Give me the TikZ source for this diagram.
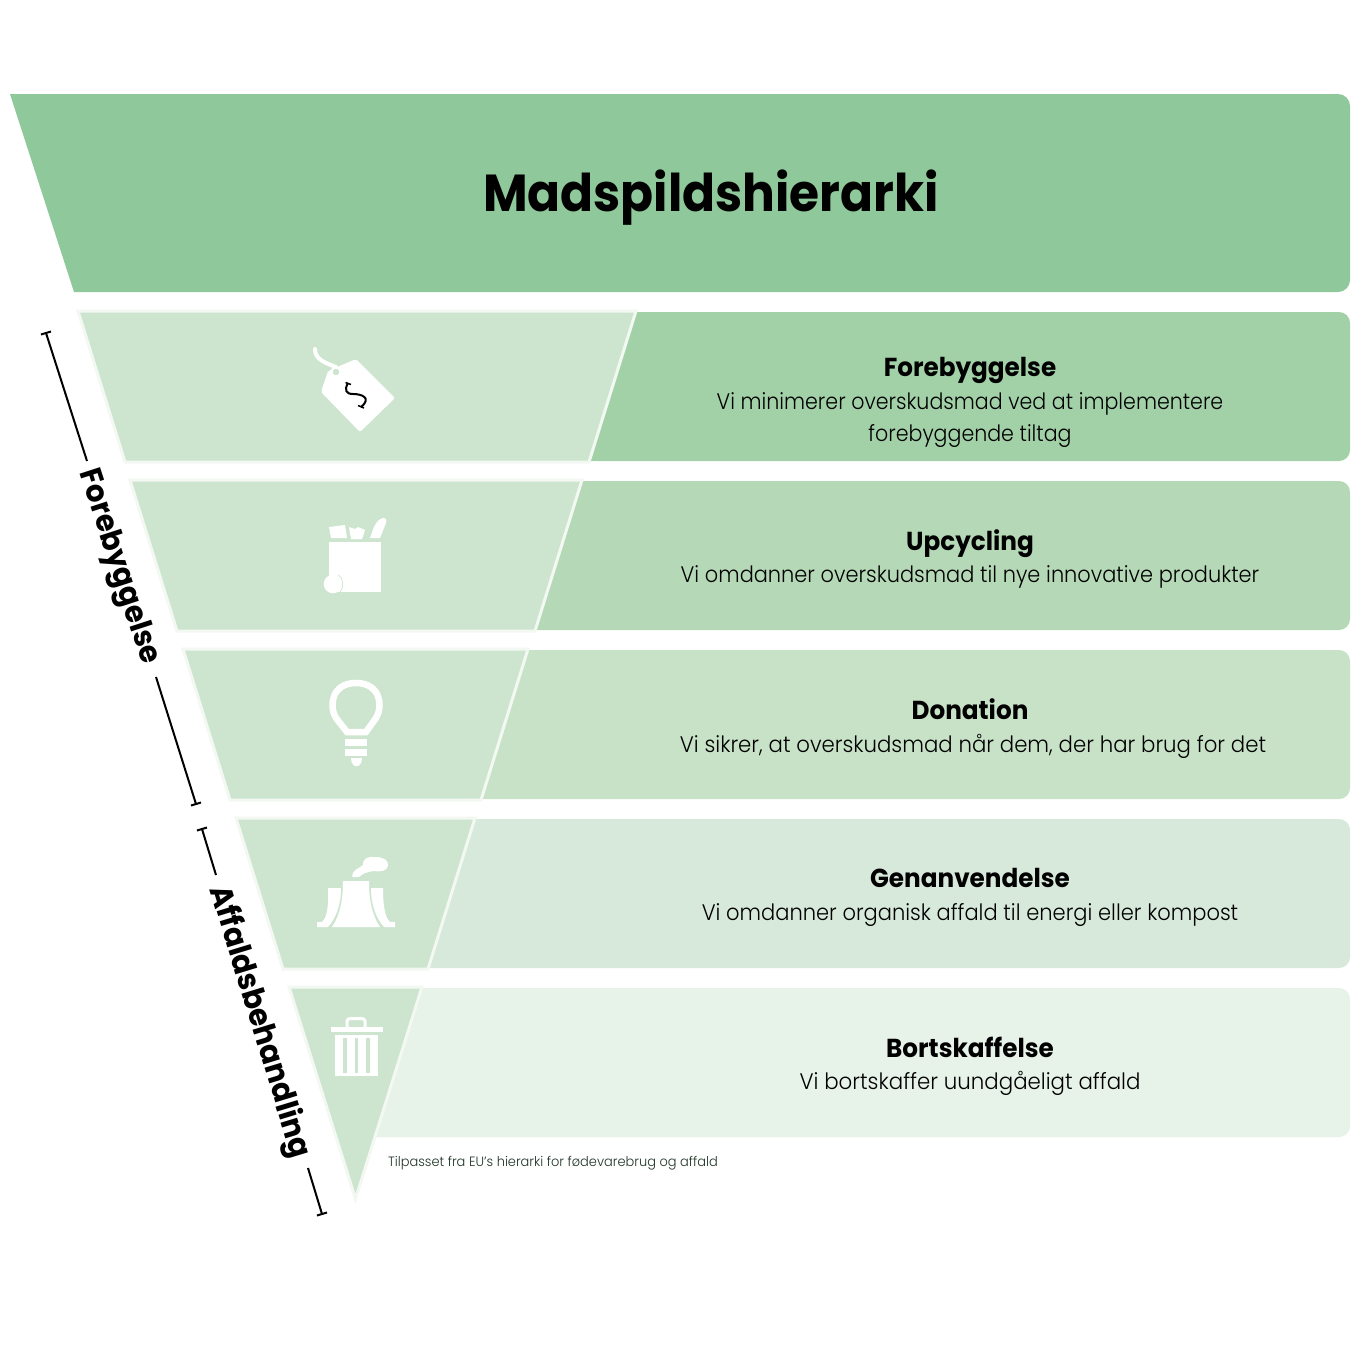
\documentclass[tikz,border=0pt]{standalone}
\usepackage{fontspec}
\setmainfont{Poppins}
\newfontfamily\bodya[FakeStretch=0.915]{Poppins Light}
\newfontfamily\bodyb[FakeStretch=0.929]{Poppins Light}
\newfontfamily\bodyc[FakeStretch=0.945]{Poppins Light}
\newfontfamily\bodyd[FakeStretch=0.934]{Poppins Light}
\newfontfamily\bodye[FakeStretch=0.948]{Poppins Light}
\newfontfamily\noted[FakeStretch=0.96]{Poppins Light}
\newfontfamily\titlef[FakeStretch=0.935]{Poppins}
\newfontfamily\headf[FakeStretch=0.95]{Poppins}
\definecolor{cTitle}{HTML}{8FC89A}
\definecolor{cA}{HTML}{A2D1A8}
\definecolor{cB}{HTML}{B5D9B7}
\definecolor{cC}{HTML}{C8E2C8}
\definecolor{cD}{HTML}{D7E9DA}
\definecolor{cE}{HTML}{E7F2E8}
\definecolor{cTri}{HTML}{CDE5CF}
\definecolor{cEdge}{HTML}{F3F8F3}
\definecolor{cNote}{HTML}{1F3326}
\tikzset{
  band/.style={rounded corners=11pt,draw=none},
  tri/.style={fill=cTri,draw=cEdge,line width=3pt,line join=miter},
  head/.style={font=\headf\bfseries\fontsize{26}{30}\selectfont,text=black,inner sep=0pt},
  body/.style={font=\fontsize{22.5}{32}\selectfont,text=black,inner sep=0pt,align=center},
  side/.style={text=black,inner sep=0pt},
  brack/.style={draw=black,line width=2pt},
  icon/.style={fill=white,draw=none},
}
\begin{document}
\begin{tikzpicture}[x=1pt,y=-1pt]
\useasboundingbox (0,0) rectangle (1360,1360);
\fill[white] (0,0) rectangle (1360,1360);
% title
\fill[cTitle] (10,94) [rounded corners=12pt] -- (1350,94) -- (1350,292) [sharp corners] -- (74,292) -- cycle;
\node[font=\titlef\bfseries\fontsize{52}{58}\selectfont,inner sep=0pt] (title) at (711,198) {Madspildshierarki};
% bands
\fill[cA,band] (560,312) rectangle (1350,461);
\fill[cB,band] (500,481) rectangle (1350,630);
\fill[cC,band] (450,650) rectangle (1350,799);
\fill[cD,band] (400,819) rectangle (1350,968);
\fill[cE,band] (340,988) rectangle (1350,1137);
% funnel
\path[tri] (78,311) -- (636,311) -- (589,462) -- (125,462) -- cycle;
\path[tri] (130,480) -- (582,480) -- (535,631) -- (177,631) -- cycle;
\path[tri] (183,649) -- (528,649) -- (481,800) -- (230,800) -- cycle;
\path[tri] (236,818) -- (475,818) -- (428,969) -- (283,969) -- cycle;
\path[tri] (289,987) -- (422,987) -- (355.5,1199) -- cycle;
% texts
\node[head] (h1) at (970,370) {Forebyggelse};
\node[body,font=\bodya\fontsize{22.5}{32}\selectfont] (b1) at (970,420) {Vi minimerer overskudsmad ved at implementere\\forebyggende tiltag};
\node[head] (h2) at (970,544) {Upcycling};
\node[body,font=\bodyb\fontsize{22.5}{32}\selectfont] (b2) at (970,577) {Vi omdanner overskudsmad til nye innovative produkter};
\node[head] (h3) at (970,709) {Donation};
\node[body,font=\bodyc\fontsize{22.5}{32}\selectfont] (b3) at (973,746) {Vi sikrer, at overskudsmad når dem, der har brug for det};
\node[head] (h4) at (970,878) {Genanvendelse};
\node[body,font=\bodyd\fontsize{22.5}{32}\selectfont] (b4) at (970,915) {Vi omdanner organisk affald til energi eller kompost};
\node[head] (h5) at (970,1047) {Bortskaffelse};
\node[body,font=\bodye\fontsize{22.5}{32}\selectfont] (b5) at (970,1083) {Vi bortskaffer uundgåeligt affald};
\node[anchor=west,inner sep=0pt,text=cNote,font=\noted\fontsize{13.5}{16}\selectfont] (note) at (388,1163) {Tilpasset fra EU’s hierarki for fødevarebrug og affald};
% side labels
\node[side,rotate=-72,font=\headf\bfseries\fontsize{30.6}{34}\selectfont] (s1) at (118,567) {Forebyggelse};
\node[side,rotate=-73,font=\headf\bfseries\fontsize{31}{34}\selectfont] (s2) at (259,1022) {Affaldsbehandling};
\coordinate (a1) at (46,333); \coordinate (a2) at (87,461);
\coordinate (a3) at (156,677); \coordinate (a4) at (196,804);
\coordinate (a5) at (202,829); \coordinate (a6) at (216,875);
\coordinate (a7) at (308,1168); \coordinate (a8) at (322,1214);
\draw[brack] (a1) -- (a2);
\draw[brack] (a3) -- (a4);
\draw[brack] (a5) -- (a6);
\draw[brack] (a7) -- (a8);
\draw[brack] (41,334.5) -- (51,331.5);
\draw[brack] (191,805.5) -- (201,802.5);
\draw[brack] (197,830.5) -- (207,827.5);
\draw[brack] (317,1215.5) -- (327,1212.5);
% tag
\fill[icon,rounded corners=2pt] (321,392) -- (328,371) -- (356,359) -- (395,398) -- (360,432) -- cycle;
\fill[cTri] (336,372) circle (3.5);
\draw[white,line width=2pt] (336,372) circle (4.5);
\draw[white,line width=4pt,line cap=round] (315,349) .. controls (315,358) and (322,362) .. (336,367);
\draw[black,line width=2pt] (348,383) .. controls (344,390) and (346,394) .. (353,394) .. controls (362,394) and (372,398) .. (361,407);
\draw[black,line width=1.5pt] (345.5,382.5) -- (351,384.5) (358,405.5) -- (364,408);
% bag
\fill[icon] (328.5,542) rectangle (380.5,592);
\fill[icon] (329,527) -- (345,525) -- (347,538) -- (331,538) -- cycle;
\fill[icon] (349,527) -- (355,529) -- (358,527) -- (365,530) -- (362,539) -- (351,539) -- cycle;
\fill[icon] (370,538) .. controls (373,530) and (375,520) .. (383,518) .. controls (386,518) and (387,520) .. (386,523) -- (380,538) -- cycle;
\fill[icon] (333,584) circle (9.3);
\draw[cTri,line width=0.7pt] (338,574.5) .. controls (344,578) and (344,588) .. (340,592);
\fill[icon] (334,574) -- (342,570) -- (341,575) -- cycle;
% bulb
\draw[white,line width=6.5pt,line join=miter] (347,732) -- (336,718) .. controls (329,707) and (331,683) .. (356,683) .. controls (381,683) and (383,707) .. (376,718) -- (366,732) -- cycle;
\fill[icon] (345,739) rectangle (367,745.5);
\fill[icon] (345,749) rectangle (367,756);
\fill[icon] (350.5,758) -- (362,758) .. controls (362,768.5) and (350.5,768.5) .. (350.5,758) -- cycle;
% plant
\fill[icon] (343,881) -- (369,881) .. controls (369,900) and (372,915) .. (380,927) -- (332,927) .. controls (340,915) and (343,900) .. (343,881) -- cycle;
\fill[icon] (328,888) -- (341,888) .. controls (341,905) and (336,918) .. (328,927) -- (317,927) -- (317,922) -- (322,922) .. controls (327,918) and (329,905) .. (328,888) -- cycle;
\fill[icon] (383,888) -- (371,888) .. controls (371,905) and (376,918) .. (384,927) -- (395,927) -- (395,922) -- (390,922) .. controls (385,918) and (383,905) .. (383,888) -- cycle;
\fill[icon] (352.5,877) .. controls (351,870) and (360,868) .. (363,865) .. controls (362,859) and (368,856) .. (375,857) .. controls (383,857) and (389,860) .. (388,866) .. controls (387,871) and (380,872) .. (373,871) .. controls (367,872) and (362,874) .. (359,877) -- cycle;
% trash
\fill[icon] (331,1027) rectangle (383,1032);
\draw[white,line width=3pt] (347,1027) -- (347,1021) .. controls (347,1019) and (349,1018.5) .. (351,1018.5) -- (361,1018.5) .. controls (363,1018.5) and (365,1019) .. (365,1021) -- (365,1027);
\fill[icon] (335,1035) rectangle (378,1076);
\fill[cTri] (343,1038) rectangle (347,1073);
\fill[cTri] (354.5,1038) rectangle (358,1073);
\fill[cTri] (366,1038) rectangle (370,1073);
\end{tikzpicture}
\end{document}
